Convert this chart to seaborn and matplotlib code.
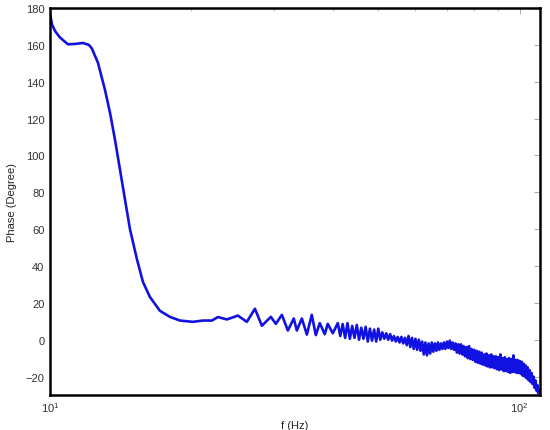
import matplotlib
matplotlib.use("Agg")
import matplotlib.pyplot as plt
import seaborn as sns
import pandas as pd

# frequency (Hz) of the smooth low-frequency part and the first oscillations
freq_low = [10.0, 10.1, 10.25, 10.5, 10.92, 11.3, 11.75, 12.1, 12.28, 12.65,
            13.09, 13.42, 13.75, 14.09, 14.44, 14.80, 15.31, 15.77, 16.32, 17.14,
            18.0, 18.91, 20.15, 21.16, 22.12, 22.78, 23.81, 25.12, 26.25, 27.31,
            28.26, 29.53, 30.26, 31.17, 32.10, 33.04, 33.54, 34.38, 35.23, 36.09,
            36.81, 37.53, 38.46, 39.03, 40.01]
phase_low = [177, 171, 167.5, 164, 160.3, 160.5, 161, 160, 158, 150.3,
             135.7, 123.2, 108.6, 92.4, 76.2, 60, 43.8, 31.4, 23.2, 15.7,
             12.4, 10.4, 9.7, 10.4, 10.4, 12.3, 11, 13.1, 9.7, 16.8,
             7.6, 12.4, 8.6, 13.5, 5, 11.5, 5, 11.5, 2.8, 13.5,
             2.5, 9, 3, 8.6, 3.5]

# frequency (Hz) of the noisy high-frequency part
freq_high = [41.0, 41.5, 42.0, 42.5, 43.0, 43.5, 44.0, 44.5, 45.0, 45.5,
             46.0, 46.5, 47.0, 47.5, 48.0, 48.5, 49.0, 49.5, 50.0, 50.5,
             51.0, 51.5, 52.0, 52.5, 53.0, 53.5, 54.0, 54.5, 55.0, 55.5,
             56.0, 56.5, 57.0, 57.5, 58.0, 58.5, 59.0, 59.5, 60.0, 60.5,
             61.0, 61.5, 62.0, 62.5, 63.0, 63.5, 64.0, 64.5, 65.0, 65.5,
             66.0, 66.5, 67.0, 67.5, 68.0, 68.5, 69.0, 69.5, 70.0, 70.5,
             71.0, 71.5, 72.0, 72.5, 73.0, 73.5, 74.0, 74.5, 75.0, 75.5,
             76.0, 76.5, 77.0, 77.5, 78.0, 78.5, 79.0, 79.5, 80.0, 80.5,
             81.0, 81.5, 82.0, 82.5, 83.0, 83.5, 84.0, 84.5, 85.0, 85.5,
             86.0, 86.5, 87.0, 87.5, 88.0, 88.5, 89.0, 89.5, 90.0, 90.5,
             91.0, 91.5, 92.0, 92.5, 93.0, 93.5, 94.0, 94.5, 95.0, 95.5,
             96.0, 96.5, 97.0, 97.5, 98.0, 98.5, 99.0, 99.5, 100.0, 100.5,
             101.0, 101.5, 102.0, 102.5, 103.0, 103.5, 104.0, 104.5, 105.0, 105.5,
             106.0, 106.5, 107.0, 107.5, 108.0, 108.5, 109.0, 109.5, 110.0]
phase_high = [9, 2, 8.5, 1, 9, 0.5, 7.5, 1, 8, 0,
              6.5, 0.5, 7, -1, 6, -0.5, 5.5, -1, 6, 0,
              4, 0.5, 3.5, 0, 3, -0.5, 2, -1, 1.5, -1.5,
              1.5, -2, 1, -3, 2, -4, 1, -5, 0.5, -5.5,
              0, -6, -1, -8, -1.5, -8.5, -2, -7.5, -1.5, -6.5,
              -2, -6, -1.5, -5.5, -2, -5, -1.5, -5, -1, -4.5,
              -0.5, -5, -1.5, -5.5, -2, -7, -2.5, -7.5, -2.5, -8,
              -3.5, -9, -4, -10, -3.5, -10.5, -5, -11, -5.5, -12,
              -6, -12.5, -6.5, -13, -7, -13.5, -8, -14, -7.5, -14.5,
              -8.5, -15, -8, -15, -9, -15.5, -9, -16, -9.5, -16.5,
              -8, -16, -10, -17, -9.5, -17, -10.5, -17.5, -10, -18,
              -10.5, -17.5, -8.5, -17.5, -11, -18, -11, -18, -11.5, -18.5,
              -12, -19.5, -13, -20, -14, -21, -15, -22, -16.5, -23,
              -18, -24, -20, -26, -22, -27.5, -24.5, -29, -27]

y_ticks = [-20, 0, 20, 40, 60, 80, 100, 120, 140, 160, 180]

df = pd.DataFrame({"f": freq_low + freq_high, "phase": phase_low + phase_high})

sns.set_style("white")
plt.rcParams["font.family"] = ["Liberation Sans", "DejaVu Sans"]
plt.rcParams["mathtext.fontset"] = "custom"
plt.rcParams["mathtext.rm"] = "Liberation Sans"

fig = plt.figure(figsize=(5.5, 4.31), dpi=100)
ax = fig.add_axes([50 / 550, 1 - 396 / 431, 490 / 550, 387 / 431])

sns.lineplot(data=df, x="f", y="phase", sort=False, estimator=None,
             color="#1212e0", linewidth=1.9, ax=ax)

ax.set_xscale("log")
ax.set_xlim(10, 110.5)
ax.set_ylim(-30, 180)
ax.set_yticks(y_ticks)
ax.set_xticks([10, 100])
ax.set_xticklabels([r"10$^{1}$", r"10$^{2}$"])

ax.set_xlabel("f (Hz)", fontsize=8, labelpad=4, color="#222222")
ax.set_ylabel("Phase (Degree)", fontsize=8, labelpad=6, color="#222222")

for s in ax.spines.values():
    s.set_visible(True)
    s.set_linewidth(1.8)
    s.set_color("black")

ax.tick_params(which="both", direction="in", top=True, right=True,
               color="#aaaaaa", labelsize=8, labelcolor="#333333")
ax.tick_params(which="major", length=4, width=0.7, pad=4)
ax.tick_params(which="minor", length=2.5, width=0.6)

fig.savefig("out.png", dpi=100, facecolor="white")
